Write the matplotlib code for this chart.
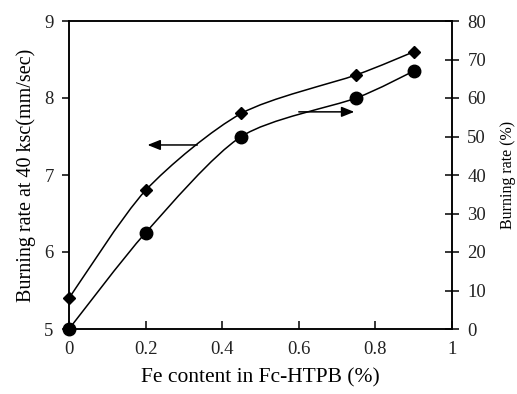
import numpy as np
import matplotlib
matplotlib.use("Agg")
import matplotlib.pyplot as plt
from matplotlib.path import Path
from matplotlib.patches import PathPatch

plt.rcParams['font.family'] = ['Liberation Serif', 'DejaVu Serif']

fe_content = [0.0, 0.2, 0.45, 0.75, 0.9]
burn_rate_40ksc = [5.4, 6.8, 7.8, 8.3, 8.6]
burn_rate_pct = [0, 25, 50, 60, 67]
x_ticks = [0, 0.2, 0.4, 0.6, 0.8, 1]
x_tick_labels = ["0", "0.2", "0.4", "0.6", "0.8", "1"]
left_ticks = [5, 6, 7, 8, 9]
right_ticks = [0, 10, 20, 30, 40, 50, 60, 70, 80]


def smooth_path(xs, ys, tension=0.4):
    xs = np.asarray(xs, float); ys = np.asarray(ys, float)
    pts = np.column_stack([xs, ys])
    n = len(pts)
    verts = [pts[0]]
    codes = [Path.MOVETO]
    for i in range(n - 1):
        p0 = pts[i - 1] if i > 0 else pts[i]
        p1 = pts[i]
        p2 = pts[i + 1]
        p3 = pts[i + 2] if i + 2 < n else pts[i + 1]
        c1 = p1 + (p2 - p0) * tension / 3
        c2 = p2 - (p3 - p1) * tension / 3
        verts += [c1, c2, p2]
        codes += [Path.CURVE4] * 3
    return Path(verts, codes)


fig = plt.figure(figsize=(5.17, 3.94), dpi=100)
ax = fig.add_axes([69/517, 1 - 329/394, (452-69)/517, (329-21)/394])
ax2 = ax.twinx()

ax.set_xlim(0, 1)
ax.set_ylim(5, 9)
ax2.set_ylim(0, 80)

# curves
ax.add_patch(PathPatch(smooth_path(fe_content, burn_rate_40ksc), fill=False,
                       edgecolor='black', lw=1.1, zorder=2))
ax2.add_patch(PathPatch(smooth_path(fe_content, burn_rate_pct), fill=False,
                        edgecolor='black', lw=1.1, zorder=2))
ax.plot(fe_content, burn_rate_40ksc, linestyle='none', marker='D', ms=6,
        color='black', clip_on=False, zorder=3)
ax2.plot(fe_content, burn_rate_pct, linestyle='none', marker='o', ms=9,
         color='black', clip_on=False, zorder=3)

# arrows
astyle = '-|>,head_length=0.55,head_width=0.22'
ax.annotate('', xy=(0.205, 7.39), xytext=(0.335, 7.39),
            arrowprops=dict(arrowstyle=astyle, color='black', lw=1.1,
                            mutation_scale=14, shrinkA=0, shrinkB=0))
ax.annotate('', xy=(0.745, 7.82), xytext=(0.60, 7.82),
            arrowprops=dict(arrowstyle=astyle, color='black', lw=1.1,
                            mutation_scale=14, shrinkA=0, shrinkB=0))

ax.set_xticks(x_ticks)
ax.set_xticklabels(x_tick_labels)
ax.set_yticks(left_ticks)
ax2.set_yticks(right_ticks)

for a in (ax, ax2):
    for s in a.spines.values():
        s.set_linewidth(1.1)

tc = '#222222'
ax.tick_params(axis='x', direction='in', length=6, width=1.1, labelsize=13.5, pad=9, labelcolor=tc)
ax.tick_params(axis='y', direction='out', length=5, width=1.1, labelsize=13.5, pad=6, labelcolor=tc)
ax2.tick_params(axis='y', direction='inout', length=10, width=1.1, labelsize=13.5, pad=6, labelcolor=tc)

ax.set_xlabel('Fe content in Fc-HTPB (%)', fontsize=15.5, labelpad=7)
ax.set_ylabel('Burning rate at 40 ksc(mm/sec)', fontsize=14.5, labelpad=6)
ax2.set_ylabel('Burning rate (%)', fontsize=11.5, labelpad=10)

fig.savefig('out.png', dpi=100)
